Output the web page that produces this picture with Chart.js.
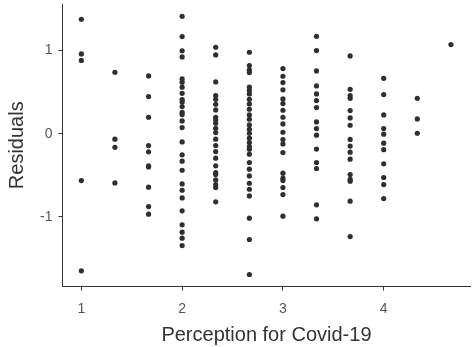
<!DOCTYPE html>
<html><head><meta charset="utf-8">
<script src="https://cdn.jsdelivr.net/npm/chart.js@4/dist/chart.umd.min.js"></script>
<style>html,body{margin:0;padding:0;background:#fff}canvas{display:block}</style>
</head><body>
<canvas id="c" width="473" height="347"></canvas>
<script>
const perception = [1, 1.333, 1.667, 2, 2.333, 2.667, 3, 3.333, 3.667, 4, 4.333, 4.667];
const resAt1_00 = [1.375, 0.958, 0.88, -0.564, -1.649];
const resAt1_33 = [0.738, -0.067, -0.165, -0.592];
const resAt1_67 = [0.694, 0.445, 0.197, -0.143, -0.219, -0.387, -0.40, -0.643, -0.876, -0.968];
const resAt2_00 = [1.41, 1.166, 0.996, 0.922, 0.658, 0.618, 0.558, 0.485, 0.409, 0.381, 0.325, 0.257, 0.229, 0.153, 0.073, -0.099, -0.255, -0.331, -0.44, -0.604, -0.68, -0.772, -0.928, -1.096, -1.184, -1.256, -1.345];
const resAt2_33 = [1.038, 0.946, 0.622, 0.458, 0.413, 0.353, 0.285, 0.197, 0.165, 0.125, 0.065, 0.013, -0.067, -0.143, -0.215, -0.295, -0.387, -0.467, -0.49, -0.556, -0.612, -0.648, -0.82];
const resAt2_67 = [0.978, 0.818, 0.766, 0.734, 0.558, 0.518, 0.477, 0.413, 0.357, 0.293, 0.225, 0.173, 0.105, 0.053, 0.005, -0.055, -0.107, -0.155, -0.187, -0.247, -0.347, -0.427, -0.508, -0.596, -0.668, -0.748, -1.016, -1.272, -1.693];
const resAt3_00 = [0.782, 0.69, 0.614, 0.526, 0.417, 0.361, 0.281, 0.197, 0.117, 0.017, -0.071, -0.123, -0.227, -0.475, -0.535, -0.564, -0.648, -0.732, -0.992];
const resAt3_33 = [1.17, 0.998, 0.754, 0.574, 0.477, 0.397, 0.313, 0.141, 0.061, -0.019, -0.185, -0.347, -0.419, -0.856, -1.024];
const resAt3_67 = [0.934, 0.533, 0.458, 0.425, 0.277, 0.189, 0.101, -0.07, -0.15, -0.223, -0.307, -0.492, -0.548, -0.572, -0.811, -1.237];
const resAt4_00 = [0.665, 0.469, 0.225, 0.061, -0.007, -0.115, -0.193, -0.363, -0.527, -0.612, -0.78];
const resAt4_33 = [0.425, 0.177, 0.005];
const resAt4_67 = [1.07];
const residualGroups = [resAt1_00, resAt1_33, resAt1_67, resAt2_00, resAt2_33, resAt2_67, resAt3_00, resAt3_33, resAt3_67, resAt4_00, resAt4_33, resAt4_67];
const xTickValues = [1, 2, 3, 4];
const yTickValues = [-1, 0, 1];
const xTitle = 'Perception for Covid-19';
const yTitle = 'Residuals';

const points = [];
perception.forEach((p, i) => residualGroups[i].forEach(r => points.push({x: p, y: r})));

const FONT = '"Liberation Sans", Arial, sans-serif';
const axisColor = '#333333';

new Chart(document.getElementById('c'), {
  type: 'scatter',
  data: { datasets: [{ data: points, backgroundColor: '#2f2f2f', borderWidth: 0, pointRadius: 2.6, pointHoverRadius: 2.6 }] },
  options: {
    responsive: false,
    devicePixelRatio: 1,
    animation: false,
    layout: { padding: { top: 4, right: 0, left: 0, bottom: 0 } },
    plugins: { legend: { display: false }, tooltip: { enabled: false } },
    scales: {
      x: {
        type: 'linear', min: 0.813, max: 4.86,
        afterFit: s => { s.height = 60.5; s.paddingLeft = 0; s.paddingRight = 0; },
        afterBuildTicks: s => { s.ticks = xTickValues.map(v => ({value: v})); },
        grid: { drawOnChartArea: false, drawTicks: true, tickLength: 4, tickColor: axisColor, tickWidth: 1 },
        border: { display: true, color: axisColor, width: 1 },
        ticks: { color: '#555555', font: { family: FONT, size: 14 }, padding: 10, maxRotation: 0 },
        title: { display: true, text: xTitle, color: '#333333', font: { family: FONT, size: 20 }, padding: { top: 0, bottom: 0 } }
      },
      y: {
        type: 'linear', min: -1.837, max: 1.558,
        afterFit: s => { s.width = 62.5; s.paddingTop = 0; s.paddingBottom = 0; },
        afterBuildTicks: s => { s.ticks = yTickValues.map(v => ({value: v})); },
        grid: { drawOnChartArea: false, drawTicks: true, tickLength: 4, tickColor: axisColor, tickWidth: 1 },
        border: { display: true, color: axisColor, width: 1 },
        ticks: { color: '#555555', font: { family: FONT, size: 14 }, padding: 6 },
        title: { display: true, text: yTitle, color: '#333333', font: { family: FONT, size: 20 }, padding: { top: 5, bottom: 0 } }
      }
    }
  }
});
</script>
</body></html>
